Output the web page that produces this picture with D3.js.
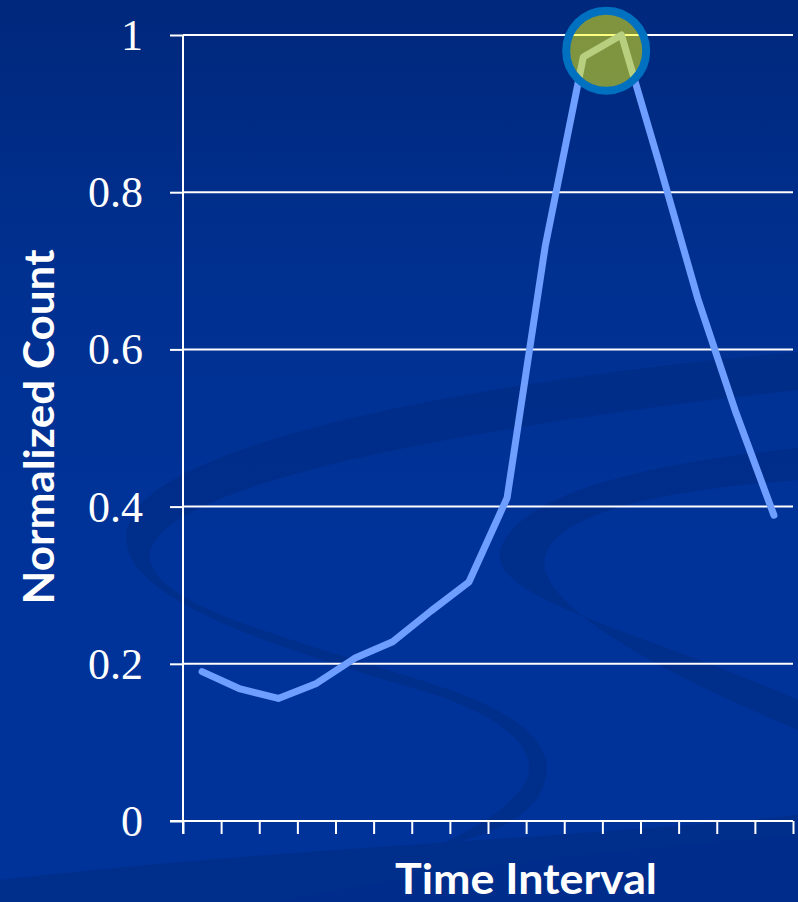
<!DOCTYPE html>
<html>
<head>
<meta charset="utf-8">
<script src="https://cdn.jsdelivr.net/npm/d3@7/dist/d3.min.js"></script>
<style>
  html, body { margin: 0; padding: 0; background: #00338f; }
  svg { display: block; }
</style>
</head>
<body>
<script>
// ---- data ----
const categories = ["1","2","3","4","5","6","7","8","9","10","11","12","13","14","15","16"];
const values = [0.19, 0.168, 0.156, 0.175, 0.207, 0.228, 0.267, 0.304, 0.411, 0.731, 0.972, 1.0, 0.835, 0.665, 0.52, 0.389];
const yTicks = [0, 0.2, 0.4, 0.6, 0.8, 1];
const yTickLabels = ["0", "0.2", "0.4", "0.6", "0.8", "1"];
const xAxisTitle = "Time Interval";
const yAxisTitle = "Normalized Count";
const highlight = { index: 10.6, value: 0.98 };

const W = 798, H = 902;
const svg = d3.select("body").append("svg").attr("width", W).attr("height", H);
const defs = svg.append("defs");

const grad = defs.append("linearGradient").attr("id", "bg").attr("x1", 0).attr("y1", 0).attr("x2", 0).attr("y2", 1);
grad.append("stop").attr("offset", "0%").attr("stop-color", "#00287c");
grad.append("stop").attr("offset", "30%").attr("stop-color", "#003090");
grad.append("stop").attr("offset", "60%").attr("stop-color", "#003399");
grad.append("stop").attr("offset", "100%").attr("stop-color", "#003399");
svg.append("rect").attr("width", W).attr("height", H).attr("fill", "url(#bg)");

// decorative swirls
const deco = svg.append("g").attr("fill", "#002a80").attr("opacity", 0.55);
deco.append("path").attr("d",
  "M798,352 C560,372 170,430 130,520 C100,590 250,640 420,690 C520,720 545,760 520,790 C500,815 470,830 440,845 " +
  "C500,835 540,810 545,780 C555,745 520,715 450,690 C300,640 160,610 150,560 C140,480 520,420 798,390 Z");
deco.append("path").attr("d",
  "M798,448 C660,462 520,490 500,550 C490,600 640,630 798,700 L798,730 C680,680 560,620 545,570 C535,515 660,490 798,480 Z");
deco.append("path").attr("d",
  "M0,902 L0,880 C250,850 550,840 798,815 L798,902 Z");
deco.append("path").attr("d",
  "M280,902 C420,870 620,850 798,835 L798,902 Z").attr("opacity", 0.6);

// ---- scales ----
const x = d3.scaleLinear().domain([0, categories.length]).range([183, 793]);
const y = d3.scaleLinear().domain([0, 1]).range([821, 35]);

// gridlines
svg.append("g").selectAll("line").data(yTicks.filter(d => d > 0)).join("line")
  .attr("x1", 183).attr("x2", 793)
  .attr("y1", d => y(d)).attr("y2", d => y(d))
  .attr("stroke", "#ffffff").attr("stroke-width", 2);

// y axis
const yAxis = svg.append("g").attr("transform", "translate(183,0)")
  .call(d3.axisLeft(y).tickValues(yTicks).tickSize(13).tickPadding(27)
    .tickFormat((d, i) => yTickLabels[i]));
yAxis.select(".domain").remove();
yAxis.append("line").attr("x1", 0).attr("x2", 0).attr("y1", y(1)).attr("y2", y(0) + 13)
  .attr("stroke", "#fff").attr("stroke-width", 2);
yAxis.selectAll(".tick line").attr("stroke", "#fff").attr("stroke-width", 2);
yAxis.selectAll(".tick text")
  .attr("fill", "#fff")
  .attr("font-family", "'Liberation Serif', 'Times New Roman', serif")
  .attr("font-size", 44)
  .attr("dy", "0.33em");

// x axis
const xAxis = svg.append("g").attr("transform", `translate(0,${y(0)})`)
  .call(d3.axisBottom(x).tickValues(d3.range(0, categories.length + 1)).tickSize(13).tickFormat(""));
xAxis.select(".domain").remove();
xAxis.append("line").attr("x1", 170).attr("x2", 793).attr("y1", 0).attr("y2", 0)
  .attr("stroke", "#fff").attr("stroke-width", 2);
xAxis.selectAll(".tick line").attr("stroke", "#fff").attr("stroke-width", 2);

// data line
const line = d3.line().x((d, i) => x(i + 0.5)).y(d => y(d));
svg.append("path").datum(values)
  .attr("d", line)
  .attr("fill", "none")
  .attr("stroke", "#6e9eff")
  .attr("stroke-width", 7)
  .attr("stroke-linejoin", "round")
  .attr("stroke-linecap", "round");

// highlight circle
svg.append("circle")
  .attr("cx", x(highlight.index + 0.5))
  .attr("cy", y(highlight.value))
  .attr("r", 40)
  .attr("fill", "#ffff00").attr("fill-opacity", 0.5)
  .attr("stroke", "#0070c0").attr("stroke-width", 8);

// titles
svg.append("text")
  .attr("x", 526).attr("y", 894)
  .attr("text-anchor", "middle")
  .attr("fill", "#fff")
  .attr("font-family", "Lato, 'Open Sans', sans-serif")
  .attr("font-weight", "bold")
  .attr("font-size", 42)
  .attr("textLength", 262)
  .attr("lengthAdjust", "spacingAndGlyphs")
  .text(xAxisTitle);

svg.append("text")
  .attr("transform", "translate(54,427) rotate(-90)")
  .attr("text-anchor", "middle")
  .attr("fill", "#fff")
  .attr("font-family", "Lato, 'Open Sans', sans-serif")
  .attr("font-weight", "bold")
  .attr("font-size", 42)
  .attr("textLength", 355)
  .attr("lengthAdjust", "spacingAndGlyphs")
  .text(yAxisTitle);
</script>
</body>
</html>
